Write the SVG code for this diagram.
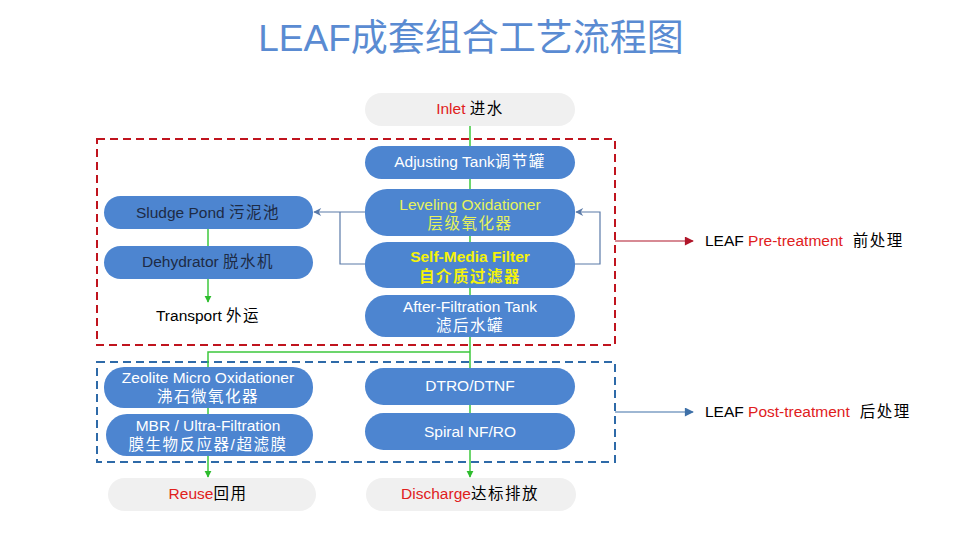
<svg xmlns="http://www.w3.org/2000/svg" width="960" height="540" viewBox="0 0 960 540">
<style>
text{font-family:"Liberation Sans","Noto Sans CJK SC",sans-serif;font-size:15.5px;text-anchor:middle}
.c{letter-spacing:1.5px}
.n{fill:#4d85d0}
.g{fill:#f0f0f0}
.w{fill:#ffffff}
.y{fill:#e6f25c}
.yb{fill:#f4f20a;font-weight:bold}
.d{fill:#1d2b45}
.k{fill:#000000}
.r{fill:#e0201c}
.gl{stroke:#3cc83c;stroke-width:1.5;fill:none}
.bl{stroke:#5a7aa8;stroke-width:1.2;fill:none}
</style>
<defs>
<marker id="ag" viewBox="0 0 10 10" refX="9" refY="5" markerWidth="7" markerHeight="8" orient="auto" markerUnits="userSpaceOnUse"><path d="M0,0L10,5L0,10z" fill="#2ebc2e"/></marker>
<marker id="ab" viewBox="0 0 10 10" refX="9" refY="5" markerWidth="9" markerHeight="8" orient="auto" markerUnits="userSpaceOnUse"><path d="M0,0L10,5L0,10L3,5z" fill="#5a7aa8"/></marker>
<marker id="ar" viewBox="0 0 10 10" refX="9" refY="5" markerWidth="10" markerHeight="9" orient="auto" markerUnits="userSpaceOnUse"><path d="M0,0L10,5L0,10z" fill="#b0162a"/></marker>
<marker id="abl" viewBox="0 0 10 10" refX="9" refY="5" markerWidth="10" markerHeight="9" orient="auto" markerUnits="userSpaceOnUse"><path d="M0,0L10,5L0,10z" fill="#3e70a8"/></marker>
</defs>
<rect width="960" height="540" fill="#ffffff"/>
<text x="471" y="51" style="font-size:37px;fill:#5a8bd2">LEAF成套组合工艺流程图</text>

<g id="regions">
<rect x="97" y="139" width="518" height="206" fill="none" stroke="#c0141e" stroke-width="2" stroke-dasharray="8,5"/>
<rect x="97" y="362" width="518" height="100" fill="none" stroke="#2e6aa8" stroke-width="2" stroke-dasharray="8,5"/>
</g>

<g id="connectors">
<path class="gl" d="M470,126V352"/>
<path class="gl" d="M470,352V477" marker-end="url(#ag)"/>
<path class="gl" d="M470,352H208V477" marker-end="url(#ag)"/>
<path class="gl" d="M208,229V302" marker-end="url(#ag)"/>
<path class="bl" d="M365,212H314" marker-end="url(#ab)"/>
<path class="bl" d="M365,264H340V212"/>
<path class="bl" d="M575,264H600V212H576" marker-end="url(#ab)"/>
<path d="M615,241H693" stroke="#b0162a" stroke-width="1.2" marker-end="url(#ar)"/>
<path d="M615,412H693" stroke="#3e70a8" stroke-width="1.2" marker-end="url(#abl)"/>
</g>

<g id="inlet"><rect class="g" x="365" y="93" width="210" height="33" rx="16.5"/><text x="470" y="114"><tspan class="r">Inlet </tspan><tspan class="k c">进水</tspan></text></g>
<g id="adjusting"><rect class="n" x="365" y="146" width="210" height="33" rx="16.5"/><text class="w" x="470" y="167">Adjusting Tank<tspan class="c">调节罐</tspan></text></g>
<g id="leveling"><rect class="n" x="365" y="189" width="210" height="47" rx="22"/><text class="y" x="470" y="210">Leveling Oxidationer</text><text class="y c" x="470" y="229">层级氧化器</text></g>
<g id="selfmedia"><rect class="n" x="365" y="242" width="210" height="46" rx="22"/><text class="yb" x="470" y="262">Self-Media Filter</text><text class="yb c" x="470" y="282">自介质过滤器</text></g>
<g id="afterfiltration"><rect class="n" x="365" y="295" width="210" height="42" rx="21"/><text class="w" x="470" y="312">After-Filtration Tank</text><text class="w c" x="470" y="331">滤后水罐</text></g>
<g id="sludge"><rect class="n" x="104" y="196" width="209" height="33" rx="16.5"/><text class="d" x="208" y="218">Sludge Pond <tspan class="c">污泥池</tspan></text></g>
<g id="dehydrator"><rect class="n" x="104" y="246" width="209" height="33" rx="16.5"/><text class="d" x="208" y="267">Dehydrator <tspan class="c">脱水机</tspan></text></g>
<g id="transport"><text class="k" x="208" y="321">Transport <tspan class="c">外运</tspan></text></g>
<g id="zeolite"><rect class="n" x="104" y="367" width="209" height="41" rx="20"/><text class="w" x="208" y="383">Zeolite Micro Oxidationer</text><text class="w c" x="208" y="402">沸石微氧化器</text></g>
<g id="mbr"><rect class="n" x="106" y="414" width="207" height="42" rx="21"/><text class="w" x="208" y="431">MBR / Ultra-Filtration</text><text class="w c" x="208" y="450">膜生物反应器/超滤膜</text></g>
<g id="dtro"><rect class="n" x="365" y="368" width="210" height="37" rx="18.5"/><text class="w" x="470" y="391">DTRO/DTNF</text></g>
<g id="spiral"><rect class="n" x="365" y="413" width="210" height="37" rx="18.5"/><text class="w" x="470" y="437">Spiral NF/RO</text></g>
<g id="reuse"><rect class="g" x="108" y="478" width="208" height="33" rx="16.5"/><text x="208" y="499"><tspan class="r">Reuse</tspan><tspan class="k c">回用</tspan></text></g>
<g id="discharge"><rect class="g" x="366" y="478" width="210" height="33" rx="16.5"/><text x="470" y="499"><tspan class="r">Discharge</tspan><tspan class="k c">达标排放</tspan></text></g>
<g id="pre"><text x="705" y="246" style="text-anchor:start"><tspan class="k">LEAF </tspan><tspan class="r">Pre-treatment</tspan><tspan class="k c" dx="10">前处理</tspan></text></g>
<g id="post"><text x="705" y="417" style="text-anchor:start"><tspan class="k">LEAF </tspan><tspan class="r">Post-treatment</tspan><tspan class="k c" dx="10">后处理</tspan></text></g>
</svg>
